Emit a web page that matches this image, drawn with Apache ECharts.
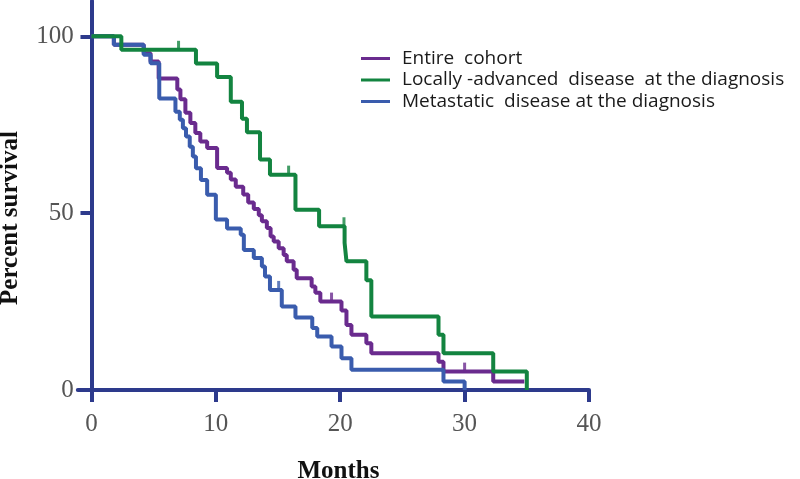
<!DOCTYPE html>
<html>
<head>
<meta charset="utf-8">
<script src="https://cdn.jsdelivr.net/npm/echarts@6/dist/echarts.min.js"></script>
<style>
html,body{margin:0;padding:0;background:#fff;}
#chart{width:800px;height:479px;}
</style>
</head>
<body>
<div id="chart"></div>
<script>
// Tick labels
const xTicks = [0, 10, 20, 30, 40];
const yTicks = [0, 50, 100];

// Series names
const seriesNames = ['Entire  cohort', 'Locally -advanced  disease  at the diagnosis', 'Metastatic  disease at the diagnosis'];

// Kaplan-Meier steps [month, percent survival]
const entireCohort = [[0,100],[1.8,97.6],[4.2,95.2],[4.75,92.9],[5.4,88.1],[6.9,85.0],[7.15,82.2],[7.55,78.4],[7.95,75.5],[8.35,72.7],[8.75,70.3],[9.3,68.4],[10.1,62.8],[10.9,61.4],[11.2,59.5],[11.6,57.5],[12.2,55.3],[12.6,53.0],[13.05,51.2],[13.45,49.4],[13.7,47.7],[14.1,45.8],[14.4,43.4],[14.65,42.0],[15.05,40.1],[15.45,38.2],[15.7,36.4],[16.25,34.0],[16.5,31.6],[17.7,29.3],[18.0,27.5],[18.4,25.0],[20.1,22.5],[20.5,18.4],[20.9,15.6],[22.1,13.2],[22.5,10.4],[27.9,8.0],[28.3,5.2],[32.3,2.4],[34.8,2.4]];
const locallyAdvanced = [[0,100],[2.4,96.2],[8.4,92.3],[10.1,88.5],[11.2,81.5],[12.1,76.7],[12.5,72.9],[13.55,65.2],[14.35,60.9],[16.4,51.0],[18.3,46.3],[20.35,41.6],[20.5,36.4],[22.1,31.0],[22.5,20.8],[27.9,15.6],[28.3,10.4],[32.3,5.2],[35.0,0]];
const metastatic = [[0,100],[1.8,97.6],[4.2,94.8],[4.75,92.4],[5.45,82.4],[6.75,78.7],[7.1,76.4],[7.35,74.0],[7.6,71.7],[7.9,68.8],[8.15,66.0],[8.4,62.7],[8.8,59.4],[9.3,55.2],[10.0,48.2],[10.9,45.7],[12.0,43.9],[12.25,39.6],[13.05,37.3],[13.7,34.9],[13.95,32.1],[14.35,28.3],[15.3,23.6],[16.4,20.5],[17.75,17.5],[18.15,15.1],[19.3,12.3],[20.1,9.0],[20.9,5.7],[28.3,2.4],[30.0,0]];

// Censored observations [month, percent survival]
const entireCensored = [[19.3,25.0],[30.0,5.2]];
const locallyCensored = [[7.0,96.2],[15.85,60.9],[20.3,46.3]];
const metastaticCensored = [[15.05,28.3]];

const colors = ['#6a2b8e', '#138440', '#3a5cad'];
const axisColor = '#2d3a8c';

const chart = echarts.init(document.getElementById('chart'), null, {renderer: 'canvas'});

function kmLine(name, data, color, z) {
  return {
    name: name, type: 'line', step: 'end', data: data, symbol: 'none', z: z,
    lineStyle: {color: color, width: 4}, itemStyle: {color: color},
    emphasis: {disabled: true}, animation: false
  };
}
function censor(name, data, color, z) {
  return {
    name: name, type: 'scatter', data: data, symbol: 'rect', symbolSize: [3, 10],
    symbolOffset: [0, -4], z: z, itemStyle: {color: color},
    emphasis: {disabled: true}, animation: false
  };
}

chart.setOption({
  animation: false,
  grid: {left: 77.8, right: 211, top: 1, bottom: 89, containLabel: false, outerBoundsMode: 'none'},
  legend: {
    data: seriesNames,
    orient: 'vertical', left: 361, top: 49, padding: 0,
    icon: 'rect', itemWidth: 29, itemHeight: 3, itemGap: 2.5,
    textStyle: {fontFamily: 'Open Sans', fontSize: 19, lineHeight: 19, color: '#1a1a1a', padding: [0,0,0,7]},
    selectedMode: false
  },
  xAxis: {
    type: 'value', min: -1.1, max: 40,
    axisLine: {show: true, onZero: true, lineStyle: {color: axisColor, width: 4}},
    axisTick: {show: true, customValues: xTicks, length: 12, lineStyle: {color: axisColor, width: 4}},
    axisLabel: {customValues: xTicks, margin: 22, fontFamily: 'Liberation Serif', fontSize: 25, color: '#555'},
    splitLine: {show: false},
    name: 'Months', nameLocation: 'middle', nameGap: 69,
    nameTextStyle: {fontFamily: 'Liberation Serif', fontSize: 25, fontWeight: 'bold', color: '#111', padding: [0,0,0,10]}
  },
  yAxis: {
    type: 'value', min: 0, max: 110,
    axisLine: {show: true, onZero: true, lineStyle: {color: axisColor, width: 4}},
    axisTick: {show: true, customValues: yTicks, length: 11, lineStyle: {color: axisColor, width: 4}},
    axisLabel: {customValues: yTicks, margin: 4, fontFamily: 'Liberation Serif', fontSize: 25, color: '#555'},
    splitLine: {show: false}
  },
  graphic: [{
    type: 'text', x: 11, y: 218, rotation: Math.PI / 2,
    style: {text: 'Percent survival', font: 'bold 25px "Liberation Serif"', fill: '#111', align: 'center', verticalAlign: 'middle'}
  }],
  series: [
    kmLine(seriesNames[0], entireCohort, colors[0], 2),
    kmLine(seriesNames[2], metastatic, colors[2], 3),
    kmLine(seriesNames[1], locallyAdvanced, colors[1], 4),
    censor('c0', entireCensored, colors[0], 2),
    censor('c2', metastaticCensored, colors[2], 3),
    censor('c1', locallyCensored, colors[1], 4)
  ]
});
</script>
</body>
</html>
